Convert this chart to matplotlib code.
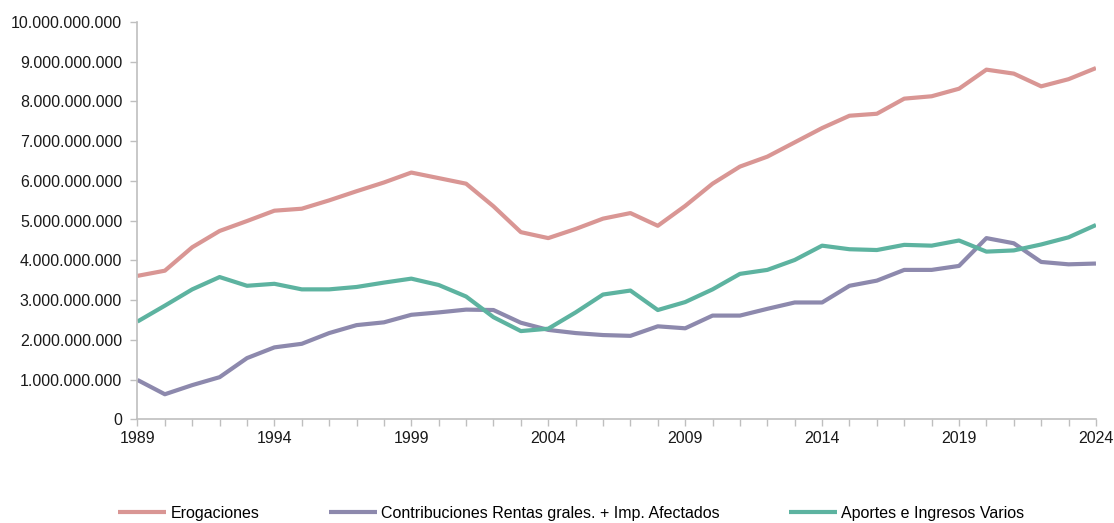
import numpy as np
import matplotlib
matplotlib.use('Agg')
import matplotlib.pyplot as plt
from matplotlib.ticker import FuncFormatter, MultipleLocator

plt.rcParams['font.family'] = ['Liberation Sans', 'DejaVu Sans']

years = list(range(1989, 2025))

# values in billions (10^9)
erogaciones = [3.61, 3.74, 4.33, 4.74, 4.99, 5.25, 5.30, 5.51, 5.74, 5.96,
               6.21, 6.07, 5.93, 5.36, 4.71, 4.56, 4.79, 5.05, 5.19, 4.87,
               5.37, 5.93, 6.36, 6.61, 6.97, 7.33, 7.64, 7.69, 8.07, 8.13,
               8.32, 8.80, 8.70, 8.38, 8.56, 8.84]
contribuciones = [0.99, 0.63, 0.86, 1.06, 1.54, 1.81, 1.90, 2.17, 2.37, 2.44,
                  2.63, 2.69, 2.76, 2.75, 2.43, 2.25, 2.17, 2.12, 2.10, 2.34,
                  2.29, 2.61, 2.61, 2.78, 2.94, 2.94, 3.36, 3.49, 3.76, 3.76,
                  3.86, 4.56, 4.43, 3.96, 3.90, 3.92]
aportes = [2.46, 2.86, 3.27, 3.58, 3.36, 3.41, 3.27, 3.27, 3.33, 3.44,
           3.54, 3.38, 3.09, 2.57, 2.22, 2.28, 2.69, 3.14, 3.24, 2.75,
           2.95, 3.27, 3.66, 3.76, 4.01, 4.37, 4.28, 4.26, 4.39, 4.37,
           4.50, 4.22, 4.25, 4.40, 4.58, 4.89]

labels = ['Erogaciones',
          'Contribuciones Rentas grales. + Imp. Afectados',
          'Aportes e Ingresos Varios']
colors = ['#D99694', '#8D89AD', '#5DB3A0']

fig = plt.figure(figsize=(11.14, 5.23), dpi=100)
ax = fig.add_axes([0.1234, 0.1983, 0.8604, 0.7597])

for series, lab, col in zip([erogaciones, contribuciones, aportes], labels, colors):
    ax.plot(years, np.array(series) * 1e9, color=col, lw=3.0, label=lab,
            solid_joinstyle='round', solid_capstyle='butt')

ax.set_xlim(1989, 2024)
ax.set_ylim(0, 10e9)
ax.yaxis.set_major_locator(MultipleLocator(1e9))
ax.yaxis.set_major_formatter(FuncFormatter(lambda v, p: f'{int(round(v)):,}'.replace(',', '.')))
ax.set_xticks(years)
ax.set_xticklabels([str(y) if (y - 1989) % 5 == 0 else '' for y in years])

for s in ['top', 'right']:
    ax.spines[s].set_visible(False)
for s in ['left', 'bottom']:
    ax.spines[s].set_color('#BFBFBF')
    ax.spines[s].set_linewidth(1.2)
ax.tick_params(axis='both', colors='#BFBFBF', labelcolor='#1a1a1a',
               labelsize=11.5, length=5, width=1)
ax.tick_params(axis='y', pad=6)
ax.tick_params(axis='x', pad=3.5)

fig.legend(loc='center', bbox_to_anchor=(0.513, 0.019), ncol=3, frameon=False,
           fontsize=11.5, handlelength=3.0, handletextpad=0.3, columnspacing=4.3)

fig.savefig('out.png', dpi=100)
